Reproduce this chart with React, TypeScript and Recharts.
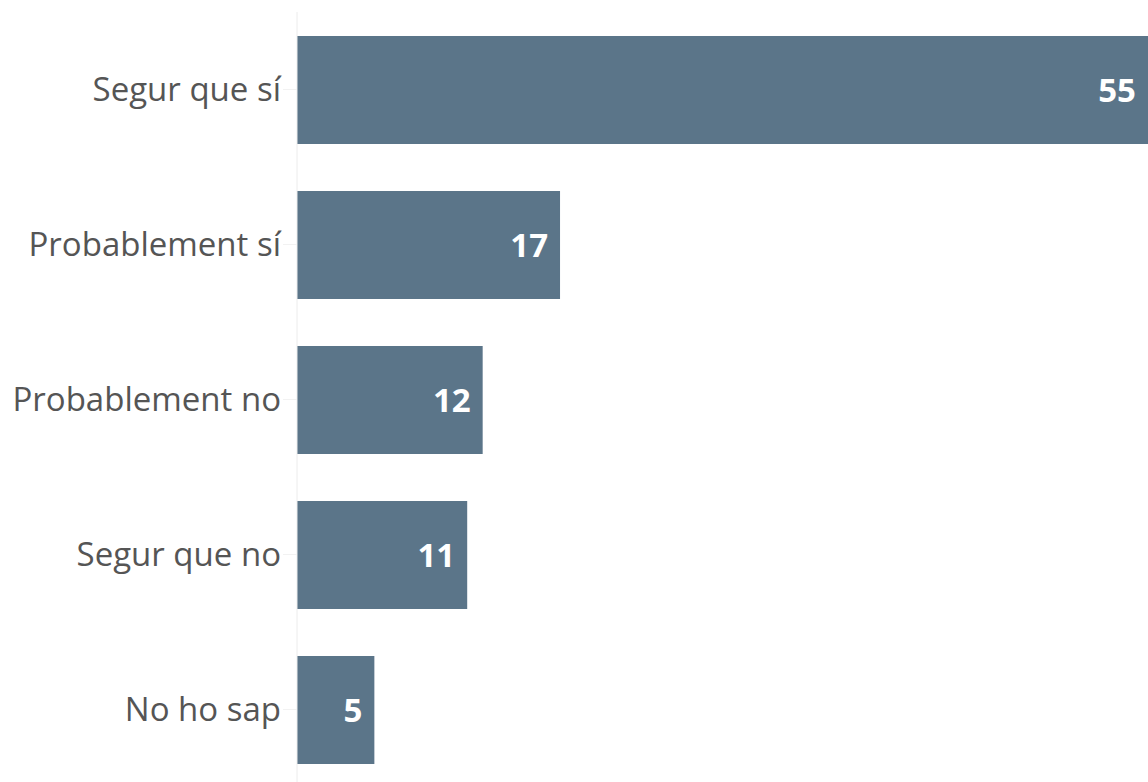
import { BarChart, Bar, XAxis, YAxis, LabelList } from "recharts";

const categories = ["Segur que sí", "Probablement sí", "Probablement no", "Segur que no", "No ho sap"];
const values = [55, 17, 12, 11, 5];

const data = categories.map((name, i) => ({ name, value: values[i] }));

export default function App() {
  return (
    <div style={{ position: "absolute", left: 0, top: 0, background: "#fff" }}>
      <BarChart
        width={1148}
        height={800}
        data={data}
        layout="vertical"
        margin={{ top: 12, right: 0, bottom: 13, left: 0 }}
      >
        <XAxis type="number" domain={[0, 55]} hide />
        <YAxis
          type="category"
          dataKey="name"
          width={297}
          axisLine={{ stroke: "#ececec" }}
          tickLine={{ stroke: "#f2f2f2" }}
          tickSize={14}
          tickMargin={2}
          tick={{ fill: "#555", fontSize: 33, fontFamily: "Open Sans" }}
        />
        <Bar dataKey="value" fill="#5b7589" barSize={108} isAnimationActive={false}>
          <LabelList
            dataKey="value"
            position="insideRight"
            offset={12}
            fill="#fff"
            fontSize={33}
            fontWeight="bold"
            fontFamily="Open Sans"
          />
        </Bar>
      </BarChart>
    </div>
  );
}
